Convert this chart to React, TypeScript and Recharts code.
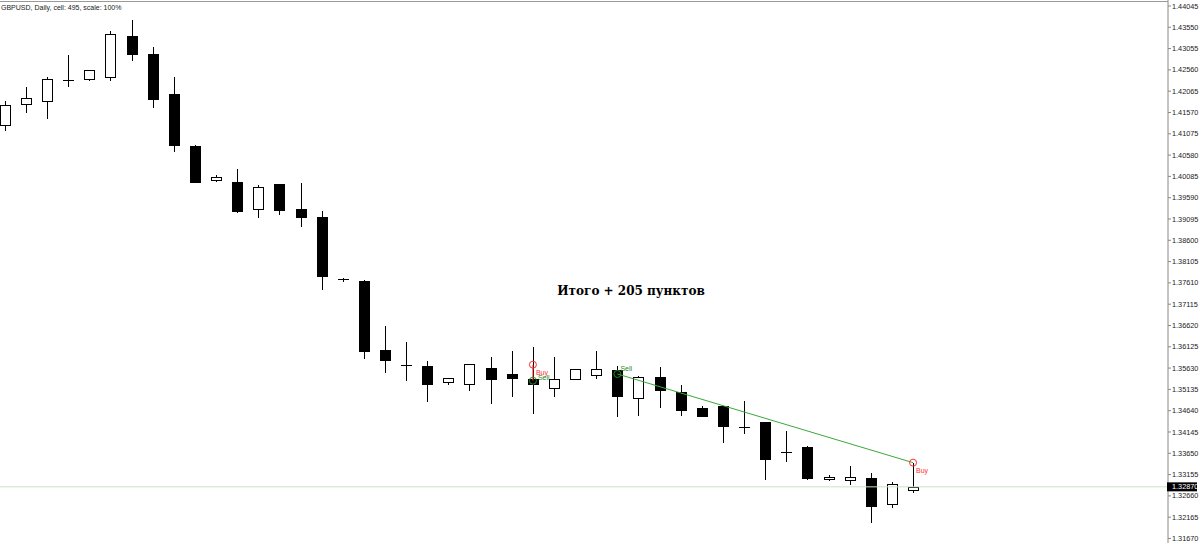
import React from 'react';
import { ComposedChart, Bar, XAxis, YAxis, ReferenceLine, ReferenceDot } from 'recharts';

const symbolInfo = 'GBPUSD, Daily, cell: 495, scale: 100%';
const summaryText = 'Итого + 205 пунктов';

const opens = [1.41273, 1.41768, 1.4183, 1.42318, 1.42356, 1.42402, 1.43355, 1.4293, 1.41993, 1.40799, 1.39994, 1.39962, 1.39321, 1.39909, 1.39335, 1.39135, 1.37701, 1.37661, 1.36044, 1.35702, 1.35672, 1.353, 1.35268, 1.3564, 1.35493, 1.35384, 1.35175, 1.3537, 1.35463, 1.35586, 1.34942, 1.3543, 1.35075, 1.34696, 1.34749, 1.34268, 1.34371, 1.33673, 1.3379, 1.33046, 1.33037, 1.33083, 1.32479, 1.32804];
const highs = [1.41837, 1.42156, 1.42402, 1.42906, 1.4256, 1.43464, 1.43713, 1.43092, 1.42402, 1.40822, 1.40125, 1.4025, 1.39885, 1.39909, 1.39932, 1.39288, 1.37731, 1.37678, 1.36609, 1.36244, 1.35795, 1.35407, 1.35718, 1.35881, 1.36028, 1.36128, 1.35881, 1.35609, 1.36028, 1.35679, 1.35447, 1.35649, 1.35237, 1.34742, 1.34749, 1.34866, 1.34371, 1.34168, 1.33813, 1.33139, 1.33362, 1.33199, 1.3299, 1.33432];
const lows = [1.41147, 1.41552, 1.41412, 1.4217, 1.42309, 1.42302, 1.42774, 1.41682, 1.40645, 1.39943, 1.39948, 1.39228, 1.39125, 1.39195, 1.38916, 1.37445, 1.37638, 1.35849, 1.35523, 1.3533, 1.34835, 1.35244, 1.35105, 1.34796, 1.34959, 1.34557, 1.34966, 1.3537, 1.3537, 1.34487, 1.34517, 1.3471, 1.34517, 1.34501, 1.33883, 1.34106, 1.3303, 1.33441, 1.3303, 1.33013, 1.32914, 1.32024, 1.32372, 1.32735];
const closes = [1.41737, 1.419, 1.42356, 1.42322, 1.42558, 1.43394, 1.42923, 1.41891, 1.40808, 1.39955, 1.40071, 1.39281, 1.39839, 1.39311, 1.39135, 1.37764, 1.377, 1.36028, 1.35818, 1.357, 1.35254, 1.35407, 1.35718, 1.35384, 1.354, 1.35254, 1.35384, 1.35609, 1.35609, 1.34982, 1.35416, 1.35114, 1.34656, 1.34517, 1.34292, 1.3427, 1.33525, 1.33675, 1.33069, 1.33099, 1.33099, 1.32419, 1.3293, 1.3287];

const priceTicks = [1.44045, 1.4355, 1.43055, 1.4256, 1.42065, 1.4157, 1.41075, 1.4058, 1.40085, 1.3959, 1.39095, 1.386, 1.38105, 1.3761, 1.37115, 1.3662, 1.36125, 1.3563, 1.35135, 1.3464, 1.34145, 1.3365, 1.33155, 1.3266, 1.32165, 1.3167];
const bidPrice = 1.3287;

// trades: [bar index, price]
const trade1Buy = [25, 1.35709];
const trade1Sell = [25, 1.35337];
const trade2Sell = [29, 1.35493];
const trade2Buy = [43, 1.33432];

const data = opens.map((o, i) => ({
  i,
  o,
  h: highs[i],
  l: lows[i],
  c: closes[i],
  range: [lows[i], highs[i]],
}));

const Candle = (props: any) => {
  const { x, y, width, height, payload } = props;
  if (x == null || y == null) return null;
  const top = Math.min(y, y + height);
  const h = Math.abs(height);
  const span = payload.h - payload.l;
  const py = (p: number) => (span > 0 ? top + ((payload.h - p) / span) * h : top);
  const cx = Math.round(x + width / 2) + 0.5;
  const bodyTop = py(Math.max(payload.o, payload.c));
  const bodyBot = py(Math.min(payload.o, payload.c));
  const bull = payload.c >= payload.o;
  const bt = Math.round(bodyTop) + 0.5;
  let bb = Math.round(bodyBot) + 0.5;
  return (
    <g>
      <line x1={cx} x2={cx} y1={Math.round(top)} y2={Math.round(top + h)} stroke="#000" strokeWidth={1} />
      {bb - bt < 1 ? (
        <line x1={cx - 5.5} x2={cx + 5.5} y1={bt} y2={bt} stroke="#000" strokeWidth={1} />
      ) : (
        <rect x={cx - 5} y={bt} width={10} height={bb - bt} fill={bull ? '#fff' : '#000'} stroke="#000" strokeWidth={1} />
      )}
    </g>
  );
};

const PriceTick = (props: any) => {
  const { x, y, payload } = props;
  const v = payload.value;
  const label = Number(v).toFixed(5);
  if (Math.abs(v - bidPrice) < 1e-7) {
    return (
      <g>
        <rect x={1167} y={y - 4.5} width={30} height={9} fill="#000" />
        <text x={x} y={y} dy={2.6} fontSize={7.3} fill="#fff" fontFamily="'Liberation Sans', Arial, sans-serif">
          {label}
        </text>
      </g>
    );
  }
  return (
    <text x={x} y={y} dy={2.6} fontSize={7.3} fill="#222" fontFamily="'Liberation Sans', Arial, sans-serif">
      {label}
    </text>
  );
};

const mark = (color: string, text: string, dx: number, dy: number) => (p: any) => (
  <g>
    <circle cx={p.cx} cy={p.cy} r={3.5} fill="none" stroke={color} strokeWidth={1} />
    {text ? (
      <text x={p.cx + dx} y={p.cy + dy} fontSize={7} fill={color} fontFamily="'Liberation Sans', Arial, sans-serif">
        {text}
      </text>
    ) : null}
  </g>
);

export default function App() {
  return (
    <div style={{ position: 'absolute', left: 0, top: 0, width: 1200, height: 543, background: '#fff', overflow: 'hidden' }}>
      <ComposedChart width={1200} height={543} data={data} margin={{ top: 0, right: 0, bottom: 0, left: 0 }}>
        <XAxis type="number" dataKey="i" domain={[-0.232, 55.07]} allowDataOverflow hide />
        <YAxis
          orientation="right"
          width={32}
          type="number"
          domain={[1.31565, 1.44184]}
          allowDataOverflow
          ticks={[...priceTicks, bidPrice]}
          interval={0}
          tickSize={3}
          tickMargin={1}
          axisLine={{ stroke: '#888' }}
          tickLine={{ stroke: '#888' }}
          tick={<PriceTick />}
        />
        <ReferenceLine y={bidPrice} stroke="#cfdfcf" strokeWidth={1} />
        <Bar dataKey="range" barSize={11} shape={<Candle />} isAnimationActive={false} />
        <ReferenceLine
          segment={[{ x: trade1Buy[0], y: trade1Buy[1] }, { x: trade1Sell[0], y: trade1Sell[1] }]}
          stroke="#ff3030"
          strokeWidth={1}
        />
        <ReferenceLine
          segment={[{ x: trade2Sell[0], y: trade2Sell[1] }, { x: trade2Buy[0], y: trade2Buy[1] }]}
          stroke="#3aa83a"
          strokeWidth={1}
        />
        <ReferenceDot x={trade1Buy[0]} y={trade1Buy[1]} r={3.5} shape={mark('#ff3030', 'Buy', 3, 10)} />
        <ReferenceDot x={trade1Sell[0]} y={trade1Sell[1]} r={3.5} shape={mark('#1f8a1f', 'Sell', 5, -1)} />
        <ReferenceDot x={trade2Sell[0]} y={trade2Sell[1]} r={3.5} shape={mark('#1f8a1f', 'Sell', 3, -3)} />
        <ReferenceDot x={trade2Buy[0]} y={trade2Buy[1]} r={3.5} shape={mark('#ff3030', 'Buy', 3, 10)} />
      </ComposedChart>
      <div style={{ position: 'absolute', left: 0, top: 1, width: 1168, height: 1, background: '#999' }} />
      <div
        style={{
          position: 'absolute',
          left: 1,
          top: 3,
          fontFamily: "'Liberation Sans', Arial, sans-serif",
          fontSize: 7,
          color: '#222',
          whiteSpace: 'nowrap',
          lineHeight: '9px',
        }}
      >
        {symbolInfo}
      </div>
      <div
        style={{
          position: 'absolute',
          left: 631,
          top: 284,
          transform: 'translateX(-50%)',
          fontFamily: "'DejaVu Serif', Georgia, serif",
          fontWeight: 'bold',
          fontSize: 12,
          color: '#000',
          whiteSpace: 'nowrap',
          lineHeight: '15px',
        }}
      >
        {summaryText}
      </div>
    </div>
  );
}
